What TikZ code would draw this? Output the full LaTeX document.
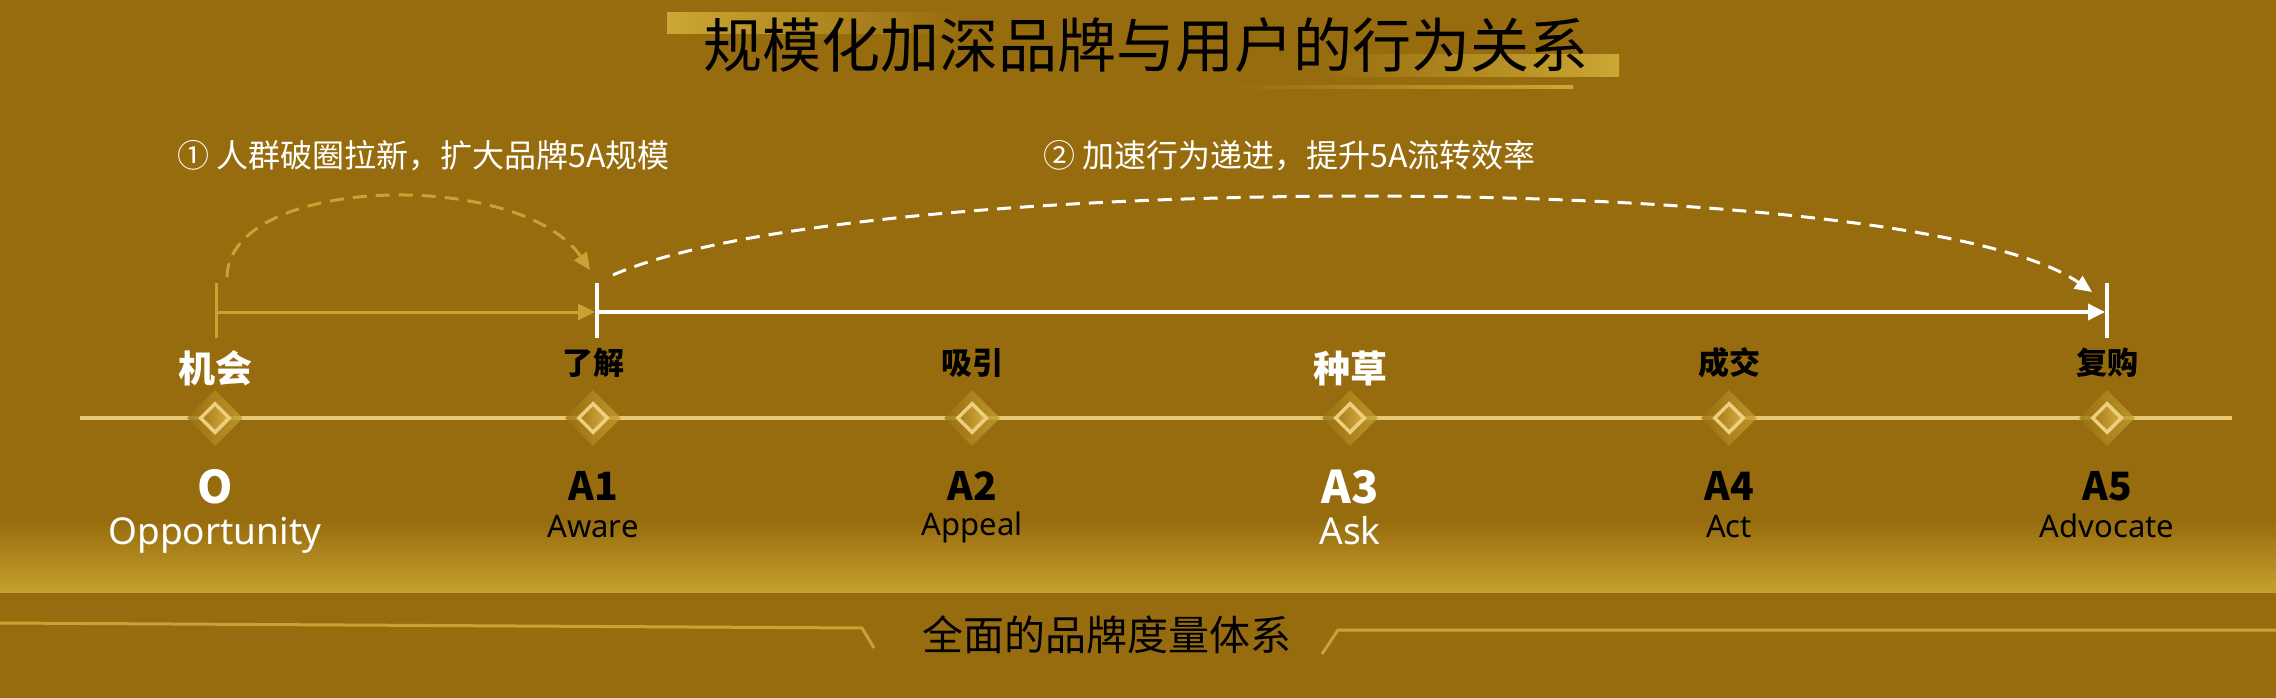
\documentclass[tikz,border=0pt]{standalone}
\usepackage{fontspec}
\setmainfont{Noto Sans}
\newfontfamily\cjk{Noto Sans CJK SC}
\usetikzlibrary{arrows.meta,shapes.geometric}
\definecolor{bg}{RGB}{151,108,14}
\definecolor{bandgold}{RGB}{197,160,46}
\definecolor{barGold}{RGB}{203,167,52}
\definecolor{tlgold}{RGB}{232,202,118}
\definecolor{arcgold}{RGB}{200,162,52}
\definecolor{dOutL}{RGB}{156,114,18}
\definecolor{dOutR}{RGB}{198,158,50}
\definecolor{dInL}{RGB}{165,124,26}
\definecolor{dInR}{RGB}{212,174,64}
\definecolor{dEdge}{RGB}{236,208,128}
\begin{document}
\begin{tikzpicture}[x=1pt,y=-1pt,
  dia/.style={diamond,minimum width=56,minimum height=56,inner sep=0,
    left color=dOutL,right color=dOutR,fill opacity=0.8},
  diain/.style={diamond,minimum width=30,minimum height=30,inner sep=0,
    left color=dInL,right color=dInR,draw=dEdge,line width=3.5},
  toplabB/.style={font=\cjk\bfseries\fontsize{31}{36}\selectfont,text=black,inner sep=0},
  toplabW/.style={font=\cjk\bfseries\fontsize{37}{42}\selectfont,text=white,inner sep=0},
  codeB/.style={font=\cjk\bfseries\fontsize{39}{44}\selectfont,text=black,inner sep=0,anchor=base},
  codeW/.style={font=\cjk\bfseries\fontsize{45}{50}\selectfont,text=white,inner sep=0,anchor=base},
  nameB/.style={font=\fontsize{31}{36}\selectfont,text=black,inner sep=0,anchor=base},
  nameW/.style={font=\fontsize{37}{42}\selectfont,text=white,inner sep=0,anchor=base},
  subtitle/.style={font=\cjk\fontsize{32}{37}\selectfont,text=white,inner sep=0,anchor=west},
  goldarr/.style={draw=arcgold,line width=3,-{Triangle[length=17pt,width=16pt]}},
  whitearr/.style={draw=white,line width=3.5,-{Triangle[length=17pt,width=16pt]}},
  golddash/.style={draw=arcgold,line width=3,dash pattern=on 14pt off 9pt,-{Triangle[length=17pt,width=15pt]}},
  whitedash/.style={draw=white,line width=3,dash pattern=on 14pt off 9pt,-{Triangle[length=17pt,width=15pt]}},
  goldtick/.style={draw=arcgold,line width=3},
  whitetick/.style={draw=white,line width=3.5},
  tl/.style={draw=tlgold,line width=4},
  decoline/.style={draw=arcgold,line width=3}
]
\useasboundingbox (0,0) rectangle (2276,698);
\fill[bg] (0,0) rectangle (2276,698);
% bottom band
\shade[top color=bg,bottom color=bandgold] (0,520) rectangle (2276,592);
% title decoration
\shade[left color=barGold,right color=bg] (667,13) rectangle (960,34);
\shade[left color=bg,right color=barGold] (1320,55) rectangle (1619,77);
\shade[left color=bg,right color=barGold] (1230,85.5) rectangle (1573,88.5);
\node[font=\cjk\fontsize{59}{66}\selectfont,text=black,inner sep=0] (title) at (1146,45) {规模化加深品牌与用户的行为关系};
% subtitles
\node[subtitle] (s1) at (177,156) {① 人群破圈拉新，扩大品牌5A规模};
\node[subtitle] (s2) at (1043,156) {② 加速行为递进，提升5A流转效率};
% timeline
\coordinate (tlL) at (80,418);
\coordinate (tlR) at (2232,418);
\draw[tl] (tlL) -- (tlR);
\foreach \i/\x in {0/215,1/593,2/972,3/1350,4/1729,5/2107}{
  \node[dia] (d\i) at (\x,418) {};
  \node[diain] (i\i) at (\x,418) {};
}
% top labels
\node[toplabW] (l0) at (215,368) {机会};
\node[toplabB] (l1) at (593,363) {了解};
\node[toplabB] (l2) at (972,363) {吸引};
\node[toplabW] (l3) at (1350,368) {种草};
\node[toplabB] (l4) at (1729,363) {成交};
\node[toplabB] (l5) at (2107,363) {复购};
% codes
\node[codeW] (c0) at (215,503) {O};
\node[codeB] (c1) at (593,500) {A1};
\node[codeB] (c2) at (972,500) {A2};
\node[codeW] (c3) at (1350,503) {A3};
\node[codeB] (c4) at (1729,500) {A4};
\node[codeB] (c5) at (2107,500) {A5};
% names
\node[nameW] (n0) at (215,544) {Opportunity};
\node[nameB] (n1) at (593,537) {Aware};
\node[nameB] (n2) at (972,535) {Appeal};
\node[nameW] (n3) at (1350,544) {Ask};
\node[nameB] (n4) at (1729,537) {Act};
\node[nameB] (n5) at (2107,537) {Advocate};
% ticks and arrows
\coordinate (t0a) at (216,283); \coordinate (t0b) at (216,338);
\coordinate (t1a) at (597,283); \coordinate (t1b) at (597,338);
\coordinate (t5a) at (2107,283); \coordinate (t5b) at (2107,338);
\draw[goldtick] (t0a) -- (t0b);
\draw[whitetick] (t1a) -- (t1b);
\draw[whitetick] (t5a) -- (t5b);
\coordinate (g0) at (216,312); \coordinate (g1) at (595,312);
\coordinate (w0) at (597,312); \coordinate (w1) at (2105,312);
\draw[goldarr] (g0) -- (g1);
\draw[whitearr] (w0) -- (w1);
% dashed arcs
\coordinate (a0s) at (227,277); \coordinate (a0e) at (590,270);
\draw[golddash] (a0s) .. controls (229,175) and (520,168) .. (a0e);
\coordinate (a1s) at (613,275); \coordinate (a1e) at (2092,292);
\draw[whitedash] (a1s) .. controls (850,170) and (1914,167) .. (a1e);
% bottom decoration
\coordinate (bl0) at (0,623); \coordinate (bl1) at (862,628); \coordinate (bl2) at (874,648);
\draw[decoline] (bl0) -- (bl1) -- (bl2);
\coordinate (br0) at (1322,654); \coordinate (br1) at (1338,630); \coordinate (br2) at (2276,630);
\draw[decoline] (br0) -- (br1) -- (br2);
\node[font=\cjk\fontsize{41}{48}\selectfont,text=black,inner sep=0] (bottom) at (1107,635) {全面的品牌度量体系};
\end{tikzpicture}
\end{document}
